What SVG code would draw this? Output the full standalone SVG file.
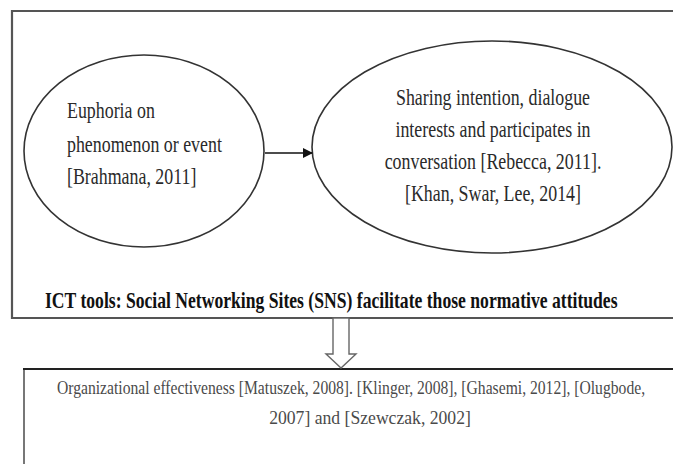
<svg xmlns="http://www.w3.org/2000/svg" width="673" height="464" viewBox="0 0 673 464">
<style>
.t{font-family:"Liberation Serif","Times New Roman",serif;font-size:24px;fill:#2a2a2a}
.m{text-anchor:middle}
.b{font-family:"Liberation Serif","Times New Roman",serif;font-size:24px;font-weight:bold;fill:#111}
.s{font-family:"Liberation Serif","Times New Roman",serif;font-size:18px;fill:#4a4a4a;text-anchor:middle}
.el{fill:#fff;stroke:#333;stroke-width:1.6}
</style>
<defs>
<marker id="ah" markerWidth="10" markerHeight="10" refX="9" refY="5" orient="auto" markerUnits="userSpaceOnUse">
<path d="M0,0 L10,5 L0,10 z" fill="#111"/>
</marker>
</defs>
<rect width="673" height="464" fill="#fff"/>
<g id="frame">
<path d="M690,11 L12,11 L12,318 L690,318" fill="none" stroke="#555" stroke-width="2.2"/>
<text class="b" transform="translate(45,308) scale(0.734,1)">ICT tools: Social Networking Sites (SNS) facilitate those normative attitudes</text>
</g>
<g id="node-euphoria">
<ellipse class="el" cx="144" cy="151" rx="120" ry="96"/>
<text class="t" transform="translate(67,118) scale(0.745,1)">Euphoria on</text>
<text class="t" transform="translate(67,152) scale(0.745,1)">phenomenon or event</text>
<text class="t" transform="translate(67,184) scale(0.745,1)">[Brahmana, 2011]</text>
</g>
<g id="node-sharing">
<ellipse class="el" cx="492" cy="147" rx="180" ry="106"/>
<text class="t m" transform="translate(493,105) scale(0.745,1)">Sharing intention, dialogue</text>
<text class="t m" transform="translate(493,137) scale(0.745,1)">interests and participates in</text>
<text class="t m" transform="translate(493,169) scale(0.745,1)">conversation [Rebecca, 2011].</text>
<text class="t m" transform="translate(493,201) scale(0.745,1)">[Khan, Swar, Lee, 2014]</text>
</g>
<g id="node-org">
<path d="M24,369 L24,470" fill="none" stroke="#777" stroke-width="2"/>
<path d="M23,369 L690,369" fill="none" stroke="#222" stroke-width="2"/>
<text class="s" transform="translate(351,394) scale(0.869,1)">Organizational effectiveness [Matuszek, 2008]. [Klinger, 2008], [Ghasemi, 2012], [Olugbode,</text>
<text class="s" transform="translate(370,424) scale(0.98,1)">2007] and [Szewczak, 2002]</text>
</g>
<g id="connectors">
<line x1="265" y1="153" x2="312" y2="153" stroke="#111" stroke-width="1.6" marker-end="url(#ah)"/>
<polygon points="333,318 349,318 349,354 356,354 341,368 326,354 333,354" fill="#fff" stroke="#666" stroke-width="1.4"/>
</g>
</svg>
